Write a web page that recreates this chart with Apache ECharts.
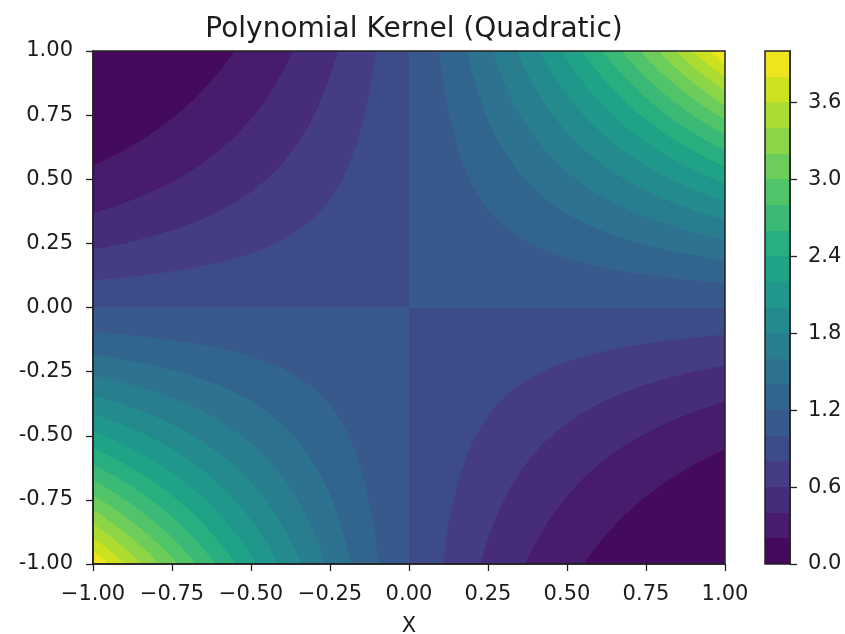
<!DOCTYPE html>
<html>
<head>
<meta charset="utf-8">
<script src="https://cdn.jsdelivr.net/npm/echarts@6/dist/echarts.min.js"></script>
<style>html,body{margin:0;padding:0;background:#fff}#c{width:845px;height:634px}</style>
</head>
<body>
<div id="c"></div>
<script>
// ---- data ----
const titleText = 'Polynomial Kernel (Quadratic)';
const xAxisName = 'X';
// K(x, y) = (x*y + coef0)^degree  (the plotted kernel)
const kernelDegree = 2;
const kernelCoef0 = 1;
const xRange = [-1, 1];
const yRange = [-1, 1];
const axisTickValues = [-1.00, -0.75, -0.50, -0.25, 0.00, 0.25, 0.50, 0.75, 1.00];
const contourLevels = [0.0, 0.2, 0.4, 0.6, 0.8, 1.0, 1.2, 1.4, 1.6, 1.8, 2.0, 2.2, 2.4, 2.6, 2.8, 3.0, 3.2, 3.4, 3.6, 3.8, 4.0];
const colorbarTickValues = [0.0, 0.6, 1.2, 1.8, 2.4, 3.0, 3.6];

// ---- viridis colour map (style) ----
const viridisStops = ['#440154','#471365','#482475','#463480','#414487','#3b528b','#355f8d','#2f6c8e','#2a788e','#25848e','#21918c','#1e9c89','#22a884','#2fb47c','#44bf70','#5ec962','#7ad151','#9bd93c','#bddf26','#dfe318','#fde725'];
function hex2rgb(h){return [parseInt(h.slice(1,3),16),parseInt(h.slice(3,5),16),parseInt(h.slice(5,7),16)];}
function viridis(t){
  const n = viridisStops.length - 1;
  const f = Math.max(0, Math.min(1, t)) * n;
  const i = Math.min(n - 1, Math.floor(f));
  const u = f - i;
  const a = hex2rgb(viridisStops[i]), b = hex2rgb(viridisStops[i + 1]);
  return 'rgb(' + a.map((v, k) => Math.round(v + (b[k] - v) * u)).join(',') + ')';
}
const nBands = contourLevels.length - 1;
const vmin = contourLevels[0], vmax = contourLevels[nBands];
const bandColors = [];
for (let k = 0; k < nBands; k++) {
  const mid = (contourLevels[k] + contourLevels[k + 1]) / 2;
  bandColors.push(viridis((mid - vmin) / (vmax - vmin)));
}

function kernel(x, y){ return Math.pow(x * y + kernelCoef0, kernelDegree); }
function bandOf(z){
  for (let k = nBands - 1; k >= 0; k--) if (z >= contourLevels[k]) return k;
  return 0;
}

// Build horizontal runs of equal contour band (filled contour regions)
const nCols = 632, nRows = 513;
const fieldData = [];
const dx = (xRange[1] - xRange[0]) / nCols;
const dy = (yRange[1] - yRange[0]) / nRows;
for (let r = 0; r < nRows; r++) {
  const y0 = yRange[0] + r * dy, y1 = y0 + dy, yc = y0 + dy / 2;
  let start = xRange[0];
  let cur = bandOf(kernel(xRange[0] + dx / 2, yc));
  for (let c = 1; c <= nCols; c++) {
    const xs = xRange[0] + c * dx;
    const b = c < nCols ? bandOf(kernel(xs + dx / 2, yc)) : -1;
    if (b !== cur) {
      fieldData.push([start, xs, y0, y1, cur]);
      start = xs; cur = b;
    }
  }
}
const colorbarData = [];
for (let k = 0; k < nBands; k++) colorbarData.push([0, 1, contourLevels[k], contourLevels[k + 1], k]);

function renderRect(params, api){
  const p0 = api.coord([api.value(0), api.value(3)]);
  const p1 = api.coord([api.value(1), api.value(2)]);
  const x0 = Math.round(p0[0]), x1 = Math.round(p1[0]);
  const y0 = Math.round(p0[1]), y1 = Math.round(p1[1]);
  return {
    type: 'rect',
    shape: {x: x0, y: y0, width: x1 - x0, height: y1 - y0},
    style: {fill: bandColors[api.value(4)], stroke: null, lineWidth: 0}
  };
}

const FONT = 'DejaVu Sans';
const TXT = '#1c1c1c';
const LINE = '#222';
const lineStyle = {show: true, onZero: false, lineStyle: {color: LINE, width: 1.5}};
const tickStyle = {show: true, inside: false, length: 7, lineStyle: {color: LINE, width: 1.3}};

const chart = echarts.init(document.getElementById('c'), null, {renderer: 'canvas'});
chart.setOption({
  animation: false,
  backgroundColor: '#fff',
  title: {
    text: titleText, left: 409, textAlign: 'center', top: 11,
    textStyle: {fontFamily: FONT, fontSize: 28, fontWeight: 'normal', color: TXT}
  },
  grid: [
    {left: 93, top: 51, width: 632, height: 513, outerBoundsMode: 'none', containLabel: false, show: true, z: 5, backgroundColor: 'transparent', borderColor: LINE, borderWidth: 1.5},
    {left: 765, top: 51, width: 25, height: 513, outerBoundsMode: 'none', containLabel: false, show: true, z: 5, backgroundColor: 'transparent', borderColor: LINE, borderWidth: 1.5}
  ],
  xAxis: [
    {
      type: 'value', gridIndex: 0, min: xRange[0], max: xRange[1], interval: 0.25, z: 6,
      name: xAxisName, nameLocation: 'middle', nameGap: 52,
      nameTextStyle: {fontFamily: FONT, fontSize: 21, color: TXT},
      axisLine: lineStyle, splitLine: {show: false},
      axisTick: tickStyle,
      axisLabel: {
        margin: 20, fontFamily: FONT, fontSize: 21, color: TXT,
        formatter: v => v.toFixed(2).replace('-', '\u2212')
      }
    },
    {
      type: 'value', gridIndex: 1, min: 0, max: 1,
      axisLine: {show: false}, axisTick: {show: false}, axisLabel: {show: false}, splitLine: {show: false}
    }
  ],
  yAxis: [
    {
      type: 'value', gridIndex: 0, min: yRange[0], max: yRange[1], interval: 0.25, z: 6,
      axisLine: lineStyle, splitLine: {show: false},
      axisTick: tickStyle,
      axisLabel: {
        margin: 20, fontFamily: FONT, fontSize: 21, color: TXT,
        formatter: v => v.toFixed(2)
      }
    },
    {
      type: 'value', gridIndex: 1, min: vmin, max: vmax, position: 'right', z: 6,
      axisLine: lineStyle, splitLine: {show: false},
      axisTick: Object.assign({customValues: colorbarTickValues}, tickStyle),
      axisLabel: {
        customValues: colorbarTickValues, margin: 18, fontFamily: FONT, fontSize: 21, color: TXT,
        formatter: v => v.toFixed(1)
      }
    }
  ],
  series: [
    {
      type: 'custom', xAxisIndex: 0, yAxisIndex: 0, clip: true, silent: true,
      progressive: 0, progressiveThreshold: 1e9, renderItem: renderRect, data: fieldData,
      encode: {x: [0, 1], y: [2, 3]}
    },
    {
      type: 'custom', xAxisIndex: 1, yAxisIndex: 1, clip: true, silent: true,
      progressive: 0, progressiveThreshold: 1e9, renderItem: renderRect, data: colorbarData,
      encode: {x: [0, 1], y: [2, 3]}
    }
  ]
});
</script>
</body>
</html>
